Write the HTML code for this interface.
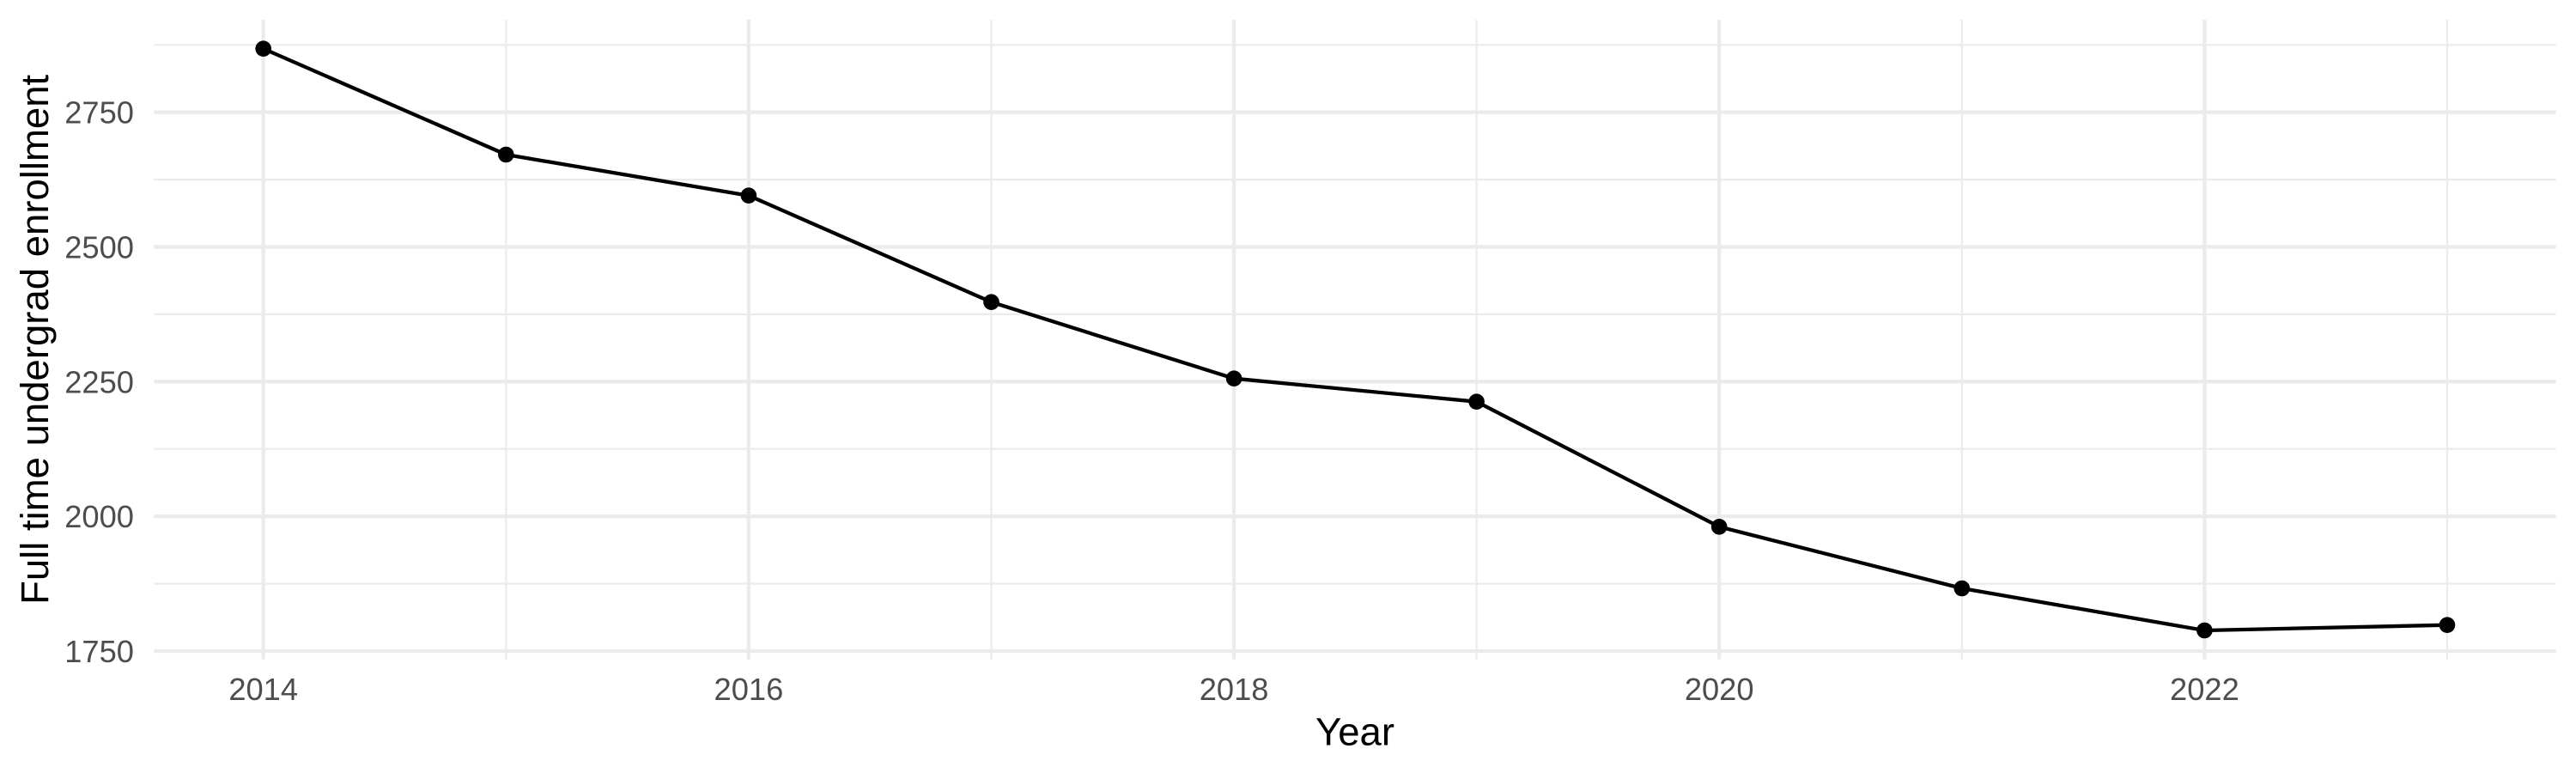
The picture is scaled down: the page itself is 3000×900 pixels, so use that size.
<!DOCTYPE html>
<html>
<head>
<meta charset="utf-8">
<style>
  html, body { margin: 0; padding: 0; background: #ffffff; }
  svg { display: block; }
  text { font-family: "Liberation Sans", Arial, Helvetica, sans-serif; }
</style>
</head>
<body>
<svg width="3000" height="900" viewBox="0 0 3000 900" xmlns="http://www.w3.org/2000/svg">
  <rect x="0" y="0" width="3000" height="900" fill="#ffffff"/>
  <!-- minor horizontal grid -->
  <g stroke="#ebebeb" stroke-width="2.2" fill="none">
    <line x1="179.3" x2="2976.7" y1="52.3" y2="52.3"/>
    <line x1="179.3" x2="2976.7" y1="209.1" y2="209.1"/>
    <line x1="179.3" x2="2976.7" y1="365.9" y2="365.9"/>
    <line x1="179.3" x2="2976.7" y1="522.7" y2="522.7"/>
    <line x1="179.3" x2="2976.7" y1="679.6" y2="679.6"/>
    <!-- minor vertical grid -->
    <line x1="589.3" x2="589.3" y1="23" y2="767.7"/>
    <line x1="1154.5" x2="1154.5" y1="23" y2="767.7"/>
    <line x1="1719.6" x2="1719.6" y1="23" y2="767.7"/>
    <line x1="2284.8" x2="2284.8" y1="23" y2="767.7"/>
    <line x1="2850" x2="2850" y1="23" y2="767.7"/>
  </g>
  <!-- major grid -->
  <g stroke="#ebebeb" stroke-width="4.3" fill="none">
    <line x1="179.3" x2="2976.7" y1="130.7" y2="130.7"/>
    <line x1="179.3" x2="2976.7" y1="287.5" y2="287.5"/>
    <line x1="179.3" x2="2976.7" y1="444.3" y2="444.3"/>
    <line x1="179.3" x2="2976.7" y1="601.2" y2="601.2"/>
    <line x1="179.3" x2="2976.7" y1="758" y2="758"/>
    <line x1="306.7" x2="306.7" y1="23" y2="767.7"/>
    <line x1="871.9" x2="871.9" y1="23" y2="767.7"/>
    <line x1="1437.1" x2="1437.1" y1="23" y2="767.7"/>
    <line x1="2002.2" x2="2002.2" y1="23" y2="767.7"/>
    <line x1="2567.4" x2="2567.4" y1="23" y2="767.7"/>
  </g>
  <!-- data line -->
  <polyline fill="none" stroke="#000000" stroke-width="4.3" stroke-linejoin="round" stroke-linecap="butt"
    points="306.7,56.7 589.3,180 871.9,227.7 1154.5,351.7 1437.1,440.7 1719.6,467.7 2002.2,613.3 2284.8,685 2567.4,734 2850,727.7"/>
  <g fill="#000000">
    <circle cx="306.7" cy="56.7" r="9.3"/>
    <circle cx="589.3" cy="180" r="9.3"/>
    <circle cx="871.9" cy="227.7" r="9.3"/>
    <circle cx="1154.5" cy="351.7" r="9.3"/>
    <circle cx="1437.1" cy="440.7" r="9.3"/>
    <circle cx="1719.6" cy="467.7" r="9.3"/>
    <circle cx="2002.2" cy="613.3" r="9.3"/>
    <circle cx="2284.8" cy="685" r="9.3"/>
    <circle cx="2567.4" cy="734" r="9.3"/>
    <circle cx="2850" cy="727.7" r="9.3"/>
  </g>
  <!-- y tick labels -->
  <g fill="#4d4d4d" font-size="36.3" text-anchor="end">
    <text x="156" y="143.7">2750</text>
    <text x="156" y="300.5">2500</text>
    <text x="156" y="457.3">2250</text>
    <text x="156" y="614.2">2000</text>
    <text x="156" y="771">1750</text>
  </g>
  <!-- x tick labels -->
  <g fill="#4d4d4d" font-size="36.3" text-anchor="middle">
    <text x="306.7" y="815">2014</text>
    <text x="871.9" y="815">2016</text>
    <text x="1437.1" y="815">2018</text>
    <text x="2002.2" y="815">2020</text>
    <text x="2567.4" y="815">2022</text>
  </g>
  <!-- axis titles -->
  <text x="1578" y="867.3" font-size="45.5" fill="#000000" text-anchor="middle">Year</text>
  <text transform="translate(56,395.4) rotate(-90)" x="0" y="0" font-size="45.5" fill="#000000" text-anchor="middle">Full time undergrad enrollment</text>
</svg>
</body>
</html>
